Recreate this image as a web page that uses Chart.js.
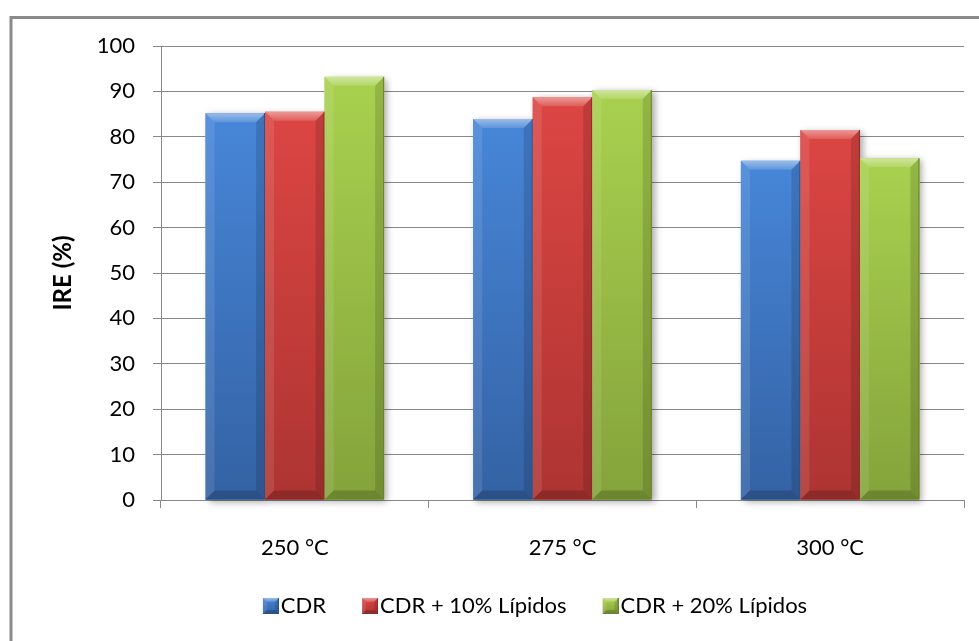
<!DOCTYPE html>
<html>
<head>
<meta charset="utf-8">
<script src="https://cdn.jsdelivr.net/npm/chart.js@4/dist/chart.umd.min.js"></script>
<style>
  html, body { margin: 0; padding: 0; background: #fff; }
  #wrap { width: 979px; height: 641px; position: relative; }
</style>
</head>
<body>
<div id="wrap"><canvas id="c" width="979" height="641"></canvas></div>
<script>
// Temperaturas de processo e IRE (%) por formulação
const categories = ['250 °C', '275 °C', '300 °C'];
const seriesNames = ['CDR', 'CDR + 10% Lípidos', 'CDR + 20% Lípidos'];
const cdr = [85.2, 83.9, 74.7];
const cdr10 = [85.5, 88.7, 81.5];
const cdr20 = [93.2, 90.3, 75.3];
const yTicks = [0, 10, 20, 30, 40, 50, 60, 70, 80, 90, 100];

// Bevel palettes: face gradient top/bottom, outline
const palettes = [
  { top: '#4786D8', bottom: '#3462A4', line: '#2B5285' },
  { top: '#DC4643', bottom: '#AD3432', line: '#8E2A28' },
  { top: '#A9D14F', bottom: '#84A33B', line: '#6A832F' }
];

const FONT = 'Lato, "Open Sans", sans-serif';
const GRID = '#888888';

function poly(ctx, pts, fill) {
  ctx.beginPath();
  ctx.moveTo(pts[0][0], pts[0][1]);
  for (let i = 1; i < pts.length; i++) ctx.lineTo(pts[i][0], pts[i][1]);
  ctx.closePath();
  ctx.fillStyle = fill;
  ctx.fill();
}

function drawBevel(ctx, l, r, t, b, pal, bevel) {
  const bv = Math.max(0, Math.min(bevel, (b - t) / 2, (r - l) / 2));
  const face = ctx.createLinearGradient(0, t, 0, b);
  face.addColorStop(0, pal.top);
  face.addColorStop(1, pal.bottom);
  ctx.fillStyle = face;
  ctx.fillRect(l, t, r - l, b - t);
  if (bv > 0) {
    const hi = ctx.createLinearGradient(0, t, 0, t + bv);
    hi.addColorStop(0, 'rgba(255,255,255,0.45)');
    hi.addColorStop(1, 'rgba(255,255,255,0.12)');
    poly(ctx, [[l, t], [r, t], [r - bv, t + bv], [l + bv, t + bv]], hi);
    poly(ctx, [[l, t], [l + bv, t + bv], [l + bv, b - bv], [l, b]], 'rgba(255,255,255,0.10)');
    poly(ctx, [[r, t], [r, b], [r - bv, b - bv], [r - bv, t + bv]], 'rgba(0,0,0,0.13)');
    poly(ctx, [[l, b], [l + bv, b - bv], [r - bv, b - bv], [r, b]], 'rgba(0,0,0,0.18)');
  }
  ctx.strokeStyle = pal.line;
  ctx.lineWidth = 1;
  ctx.beginPath();
  ctx.moveTo(r - 0.5, t);
  ctx.lineTo(r - 0.5, b - 0.5);
  ctx.lineTo(l, b - 0.5);
  ctx.stroke();
}

// Legend swatches: transparent lead-in on the left, bevelled square on the right
const BOX_W = 33;       // pointStyleWidth
const SQ = 16;
function makeIcon(pal) {
  const w = BOX_W + 18, h = SQ;
  const cv = document.createElement('canvas');
  cv.width = w; cv.height = h;
  const c = cv.getContext('2d');
  drawBevel(c, w - SQ, w, 0, h, pal, 4);
  return cv;
}
const icons = palettes.map(makeIcon);

const bevelBars = {
  id: 'bevelBars',
  beforeDraw(chart) {
    const ctx = chart.ctx;
    ctx.save();
    ctx.fillStyle = '#ffffff';
    ctx.fillRect(0, 0, chart.width, chart.height);
    ctx.strokeStyle = '#8a8a8a';
    ctx.lineWidth = 3;
    ctx.strokeRect(11, 17.5, 2000, 2000);
    ctx.restore();
  },
  beforeDatasetsDraw(chart) {
    const ctx = chart.ctx;
    ctx.save();
    ctx.shadowColor = 'rgba(0,0,0,0.35)';
    ctx.shadowBlur = 7;
    ctx.shadowOffsetX = 3;
    ctx.shadowOffsetY = 2;
    ctx.fillStyle = '#ffffff';
    chart.data.datasets.forEach((ds, i) => {
      chart.getDatasetMeta(i).data.forEach(el => {
        const p = el.getProps(['x', 'y', 'base', 'width'], true);
        ctx.fillRect(p.x - p.width / 2, p.y, p.width, p.base - p.y);
      });
    });
    ctx.restore();
  },
  afterDatasetsDraw(chart) {
    const ctx = chart.ctx;
    ctx.save();
    chart.data.datasets.forEach((ds, i) => {
      chart.getDatasetMeta(i).data.forEach(el => {
        const p = el.getProps(['x', 'y', 'base', 'width'], true);
        drawBevel(ctx, p.x - p.width / 2, p.x + p.width / 2, p.y, p.base, palettes[i], 9);
      });
    });
    ctx.restore();
  }
};

const values = [cdr, cdr10, cdr20];

new Chart(document.getElementById('c'), {
  type: 'bar',
  data: {
    labels: categories,
    datasets: seriesNames.map((name, i) => ({
      label: name,
      data: values[i],
      backgroundColor: palettes[i].top,
      borderWidth: 0,
      categoryPercentage: 0.667,
      barPercentage: 1.0
    }))
  },
  options: {
    responsive: false,
    animation: false,
    layout: { padding: { top: 46, left: 80, right: 15, bottom: 14 } },
    plugins: {
      tooltip: { enabled: false },
      legend: {
        position: 'bottom',
        labels: {
          usePointStyle: true,
          pointStyleWidth: BOX_W,
          padding: 10,
          color: '#000',
          font: { family: FONT, size: 22 },
          generateLabels(chart) {
            return chart.data.datasets.map((ds, i) => ({
              text: ds.label,
              fillStyle: palettes[i].top,
              strokeStyle: 'rgba(0,0,0,0)',
              lineWidth: 0,
              pointStyle: icons[i],
              hidden: !chart.isDatasetVisible(i),
              datasetIndex: i,
              fontColor: '#000'
            }));
          }
        }
      }
    },
    scales: {
      x: {
        offset: true,
        grid: { offset: true, drawOnChartArea: false, drawTicks: true, tickLength: 8, color: GRID, lineWidth: 1 },
        border: { color: GRID, width: 1 },
        ticks: { color: '#000', font: { family: FONT, size: 22 }, padding: 27 },
        afterFit(scale) { scale.height = 85; }
      },
      y: {
        min: 0,
        max: 100,
        afterBuildTicks(scale) { scale.ticks = yTicks.map(v => ({ value: v })); },
        grid: { color: GRID, lineWidth: 1, tickLength: 8, drawTicks: true },
        border: { color: GRID, width: 1 },
        ticks: { color: '#000', font: { family: FONT, size: 22 }, padding: 18 },
        title: {
          display: true,
          text: 'IRE (%)',
          color: '#000',
          font: { family: FONT, size: 24, weight: 'bold' },
          padding: { top: -31, bottom: 0 }
        },
        afterFit(scale) { scale.width = 81; }
      }
    }
  },
  plugins: [bevelBars]
});
</script>
</body>
</html>
